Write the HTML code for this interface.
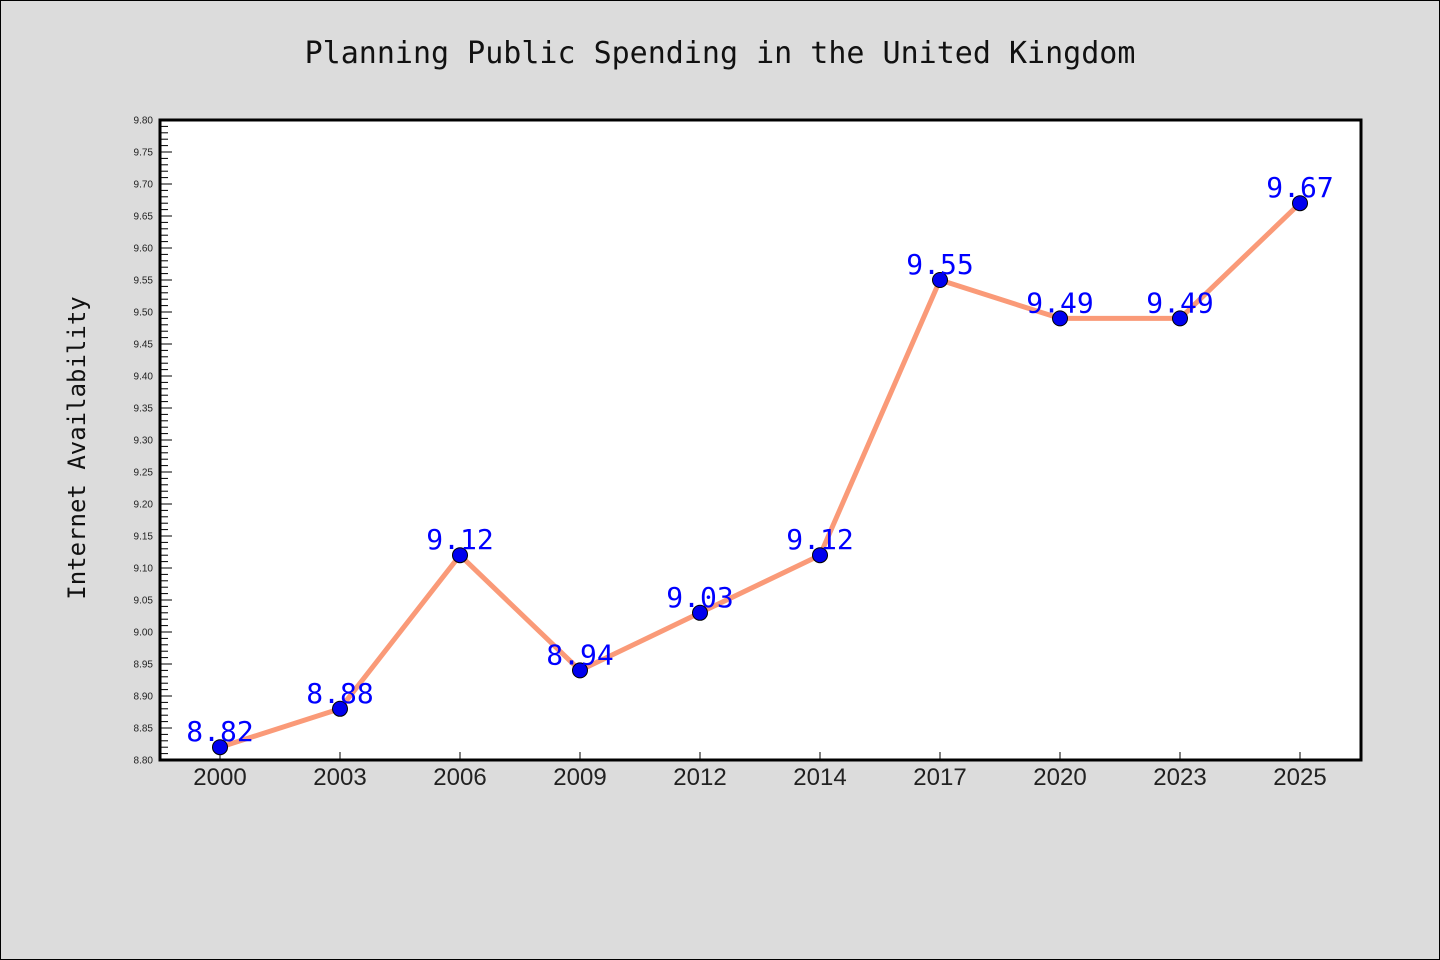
<!DOCTYPE html>
<html><head><meta charset="utf-8"><style>
html,body{margin:0;padding:0;background:#dcdcdc;}
svg{display:block;font-family:"Liberation Sans","DejaVu Sans",sans-serif;}
</style></head><body>
<svg id="chart" width="1440" height="960" viewBox="0 0 1440 960" xmlns="http://www.w3.org/2000/svg">
<rect x="0.5" y="0.5" width="1439" height="959" fill="#dcdcdc" stroke="#000" stroke-width="1"/>
<text x="720" y="63" text-anchor="middle" font-size="30" font-family="DejaVu Sans Mono, Liberation Mono, monospace" fill="#111">Planning Public Spending in the United Kingdom</text>
<rect x="160" y="120" width="1201" height="640" fill="#fff"/>
<text transform="translate(85,448) rotate(-90)" text-anchor="middle" font-size="24" font-family="DejaVu Sans Mono, Liberation Mono, monospace" fill="#111">Internet Availability</text>
<g id="ticks"></g>
<g id="series"></g>
<rect x="160" y="120" width="1201" height="640" fill="none" stroke="#000" stroke-width="3"/>
</svg>
<script>
const categories = ["2000","2003","2006","2009","2012","2014","2017","2020","2023","2025"];
const values = [8.82,8.88,9.12,8.94,9.03,9.12,9.55,9.49,9.49,9.67];
const yMin = 8.80, yMax = 9.80;
const NS = "http://www.w3.org/2000/svg";
const X0=160, W=1200, Y0=760, H=640;
function xScale(i){ return X0 + W/categories.length*(i+0.5); }
function yScale(v){ return Y0 - (v-yMin)/(yMax-yMin)*H; }
function mk(tag, attrs, parent){ const e=document.createElementNS(NS,tag); for(const k in attrs) e.setAttribute(k,attrs[k]); parent.appendChild(e); return e; }
const tg=document.getElementById('ticks');
for(let k=0;k<=100;k++){
  const v=yMin+k*0.01, y=yScale(v), major=k%5===0;
  const t=mk('line',{x1:160,x2:160+(major?12:8),y1:y,y2:y,stroke:'#000','stroke-width':1},tg);
  
  
  if(major){
    const l=mk('text',{x:153,y:y+3.5,'text-anchor':'end','font-size':10,fill:'#222'},tg);
    l.textContent=v.toFixed(2);
    
    
  }
}
categories.forEach((c,i)=>{
  const x=xScale(i);
  const t=mk('line',{x1:x,x2:x,y1:760,y2:752,stroke:'#000','stroke-width':1},tg);
  
  
  const l=mk('text',{x:x,y:785,'text-anchor':'middle','font-size':24,fill:'#222'},tg);
  l.textContent=c;
  
  
});
const sg=document.getElementById('series');
const line=mk('polyline',{points:values.map((v,i)=>xScale(i)+','+yScale(v)).join(' '),fill:'none',stroke:'#fa9a78','stroke-width':5,'stroke-linejoin':'round'},sg);


values.forEach((v,i)=>{
  const p=mk('circle',{cx:xScale(i),cy:yScale(v),r:7.5,fill:'#0000ee',stroke:'#000','stroke-width':1},sg);
  
  
});
values.forEach((v,i)=>{
  const l=mk('text',{x:xScale(i),y:yScale(v)-6,'text-anchor':'middle','font-size':28,'font-family':'DejaVu Sans Mono, Liberation Mono, monospace',fill:'#0000ff'},sg);
  l.textContent=v.toFixed(2);
  
  
});
</script>
</body></html>
